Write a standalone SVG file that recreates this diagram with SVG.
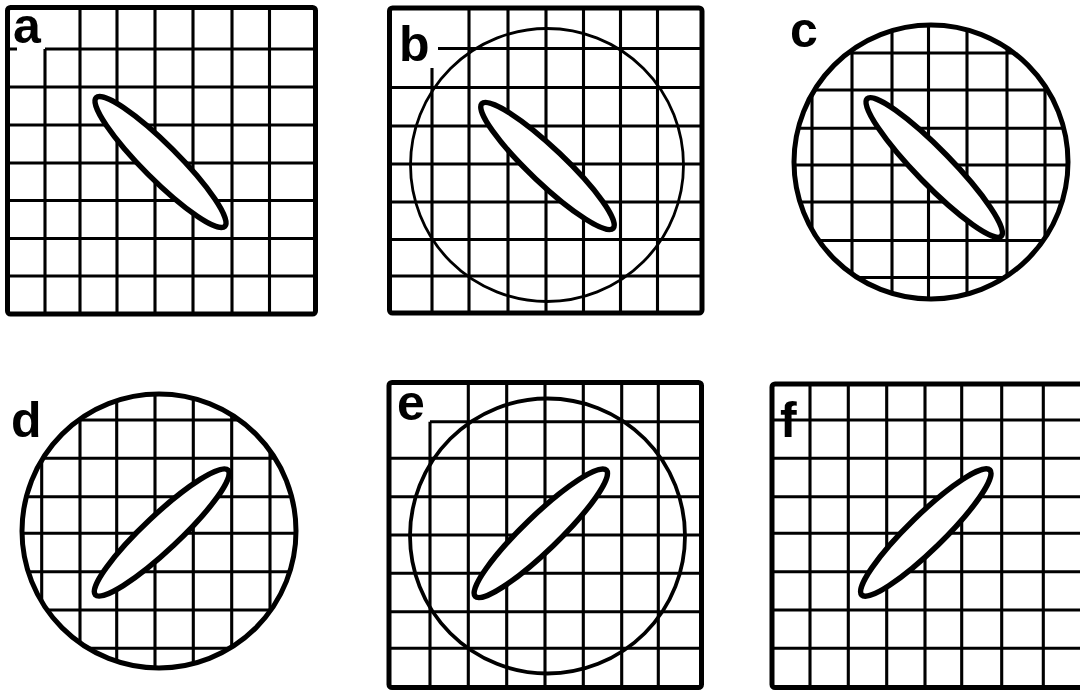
<svg xmlns="http://www.w3.org/2000/svg" width="1080" height="691" viewBox="0 0 1080 691">
<style>
.bg{fill:#fff}
.border{fill:none;stroke:#000;stroke-width:5;stroke-linejoin:round}
.grid{fill:none;stroke:#000;stroke-width:3.1;stroke-linecap:butt}
.ring-thin{fill:none;stroke:#000;stroke-width:2.8}
.ring{fill:none;stroke:#000;stroke-width:5}
.ring-mid{fill:none;stroke:#000;stroke-width:3.8}
.blob{fill:#fff;stroke:#000;stroke-width:5.5}
.lbl{font-family:"Liberation Sans",Arial,sans-serif;font-weight:bold;font-size:50px;fill:#000}
</style>
<defs>
<clipPath id="clipC"><circle cx="931" cy="162" r="137"/></clipPath>
<clipPath id="clipD"><circle cx="159" cy="531" r="137"/></clipPath>
</defs>
<rect class="bg" x="0" y="0" width="1080" height="691"/>

<g id="panel-a">
<path class="grid" d="M45,49V314 M80,7.5V314 M117,7.5V314 M155,7.5V314 M193,7.5V314 M232,7.5V314 M269.5,7.5V314 M45,49H315.5 M7.5,49H17 M7.5,87H315.5 M7.5,125H315.5 M7.5,163H315.5 M7.5,200.5H315.5 M7.5,238.5H315.5 M7.5,276H315.5"/>
<rect class="border" x="7.5" y="7.5" width="308" height="306.5" rx="3"/>
<ellipse class="blob" cx="160.5" cy="162" rx="91" ry="17.5" transform="rotate(45 160.5 162)"/>
<text class="lbl" x="13" y="43">a</text>
</g>

<g id="panel-b">
<path class="grid" d="M432,68V313 M469,8V313 M508,8V313 M546,8V313 M583.5,8V313 M620.5,8V313 M657.5,8V313 M438,48.5H702 M389.5,87.5H702 M389.5,126H702 M389.5,164H702 M389.5,202H702 M389.5,239.5H702 M389.5,276H702"/>
<rect class="border" x="389.5" y="8" width="312.5" height="305" rx="3"/>
<circle class="ring-thin" cx="547" cy="165" r="136.5"/>
<ellipse class="blob" cx="547.5" cy="166" rx="90.5" ry="17.5" transform="rotate(43.5 547.5 166)"/>
<text class="lbl" x="399" y="61">b</text>
</g>

<g id="panel-c">
<path class="grid" clip-path="url(#clipC)" d="M812,20V300 M852,20V300 M892,20V300 M928.5,20V300 M967,20V300 M1007,20V300 M1045,20V300 M790,53H1072 M790,90H1072 M790,128.3H1072 M790,165H1072 M790,202H1072 M790,240.5H1072 M790,277.5H1072"/>
<circle class="ring" cx="931" cy="162" r="137"/>
<ellipse class="blob" cx="934.2" cy="167.5" rx="96" ry="17.5" transform="rotate(45.7 934.2 167.5)"/>
<text class="lbl" x="790" y="47">c</text>
</g>

<g id="panel-d">
<path class="grid" clip-path="url(#clipD)" d="M41.7,390V670 M80,390V670 M116.7,390V670 M155,390V670 M193.3,390V670 M231.7,390V670 M270,390V670 M20,420H300 M20,458.3H300 M20,496.7H300 M20,533.3H300 M20,571.7H300 M20,610H300 M20,648.3H300"/>
<circle class="ring" cx="159" cy="531" r="137"/>
<ellipse class="blob" cx="161.7" cy="532.5" rx="91" ry="17.5" transform="rotate(-43.2 161.7 532.5)"/>
<text class="lbl" x="11" y="437">d</text>
</g>

<g id="panel-e">
<path class="grid" d="M430,421.7V688 M468.3,382.5V688 M506.7,382.5V688 M545,382.5V688 M583.3,382.5V688 M621.7,382.5V688 M658.3,382.5V688 M430,421.7H701.5 M389,458.3H701.5 M389,496.7H701.5 M389,535H701.5 M389,573.3H701.5 M389,611.7H701.5 M389,648.3H701.5"/>
<rect class="border" x="389" y="382.5" width="312.5" height="305" rx="3"/>
<circle class="ring-mid" cx="547.5" cy="536" r="137.5"/>
<ellipse class="blob" cx="540.8" cy="533.3" rx="91" ry="17.5" transform="rotate(-43.9 540.8 533.3)"/>
<text class="lbl" x="397" y="420">e</text>
</g>

<g id="panel-f">
<path class="grid" d="M810,384V688 M848.3,384V688 M886.7,384V688 M925,384V688 M961.7,384V688 M1001.7,384V688 M1043.3,384V688 M772,420H1084 M772,458.3H1084 M772,496.7H1084 M772,533.3H1084 M772,571.7H1084 M772,610H1084 M772,648.3H1084"/>
<rect class="border" x="772" y="384" width="312" height="303.5" rx="3"/>
<ellipse class="blob" cx="925.8" cy="532.5" rx="89.5" ry="17.5" transform="rotate(-44.3 925.8 532.5)"/>
<text class="lbl" x="780" y="437">f</text>
</g>
</svg>
